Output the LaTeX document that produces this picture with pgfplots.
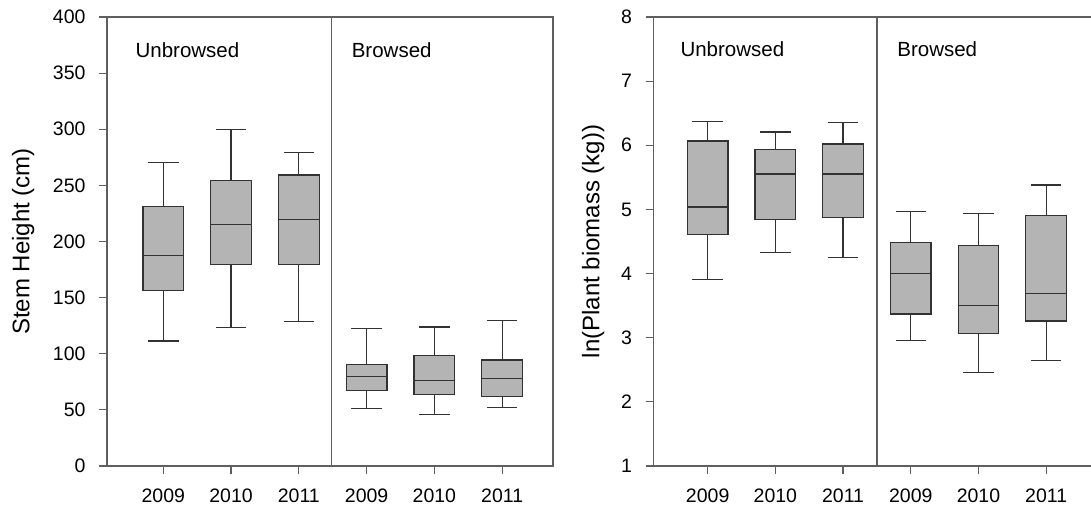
\documentclass[border=0pt]{standalone}
\usepackage{fontspec}
\setmainfont{Liberation Sans}
\usepackage{pgfplots}
\pgfplotsset{compat=1.18}
\usepgfplotslibrary{statistics}

\definecolor{boxfill}{RGB}{180,180,180}
\definecolor{boxline}{RGB}{50,50,50}
\definecolor{axline}{RGB}{95,95,95}

\tikzset{grp/.style={anchor=base west, font=\fontsize{20.5bp}{24bp}\selectfont}}

\pgfplotsset{
  panel/.style={
    scale only axis, height=449bp,
    axis line style={axline, line width=1.4bp},
    tick style={axline, line width=1.2bp},
    tick align=outside, major tick length=8bp,
    xtick pos=left, ytick pos=left,
    xtick={1,2,3,4,5,6}, xticklabels={2009,2010,2011,2009,2010,2011},
    ticklabel style={font=\fontsize{19.5bp}{23bp}\selectfont, text=black},
    /pgf/number format/assume math mode=true,
    extra x tick labels={},
    extra x tick style={grid=major, major tick length=0pt, major grid style={axline, line width=1.5bp}},
    xticklabel style={yshift=-11bp},
    yticklabel style={xshift=-10bp},
    boxplot/draw direction=y,
  },
  mybox/.style={draw=boxline, line width=1.2bp, boxplot/every box/.style={fill=boxfill}},
  bx/.style n args={6}{mybox, boxplot prepared={draw position=#1, lower whisker=#2, lower quartile=#3, median=#4, upper quartile=#5, upper whisker=#6, box extend=0.6, whisker extend=0.45}},
}

\begin{document}
\begin{tikzpicture}
\path[use as bounding box] (0,0) rectangle (1091bp,506bp);
\clip (0,0) rectangle (1091bp,506bp);

\begin{axis}[panel, at={(107bp,40bp)}, anchor=south west, width=446bp,
  xmin=0.17, xmax=6.75, ymin=0, ymax=400, ytick={0,50,...,400},
  extra x ticks={3.48},
  ylabel={Stem Height (cm)},
  every axis y label/.style={at={(axis description cs:-0.188,0.5)}, rotate=90, anchor=center, font=\fontsize{24bp}{28bp}\selectfont}]
\addplot[bx={1}{111.4}{156.7}{187.6}{231.4}{270.5}] coordinates {};
\addplot[bx={2}{123.6}{179.6}{214.8}{254.2}{299.6}] coordinates {};
\addplot[bx={3}{128.6}{179.6}{219.6}{259.3}{279.4}] coordinates {};
\addplot[bx={4}{51.3}{67.3}{79.7}{90.1}{122.7}] coordinates {};
\addplot[bx={5}{45.9}{63.7}{76.4}{98.1}{123.9}] coordinates {};
\addplot[bx={6}{51.9}{61.6}{77.6}{94.5}{129.8}] coordinates {};
\node[grp] at (axis cs:0.54,364) {Unbrowsed};
\node[grp] at (axis cs:3.73,364) {Browsed};
\end{axis}

\begin{axis}[panel, at={(653.5bp,40bp)}, anchor=south west, width=446.8bp,
  xmin=0.2, xmax=6.8, ymin=1, ymax=8, ytick={1,2,...,8},
  extra x ticks={3.5},
  ylabel={ln(Plant biomass (kg))},
  every axis y label/.style={at={(axis description cs:-0.135,0.5)}, rotate=90, anchor=center, font=\fontsize{24bp}{28bp}\selectfont}]
\addplot[bx={1}{3.904}{4.609}{5.039}{6.066}{6.372}] coordinates {};
\addplot[bx={2}{4.334}{4.842}{5.553}{5.931}{6.206}] coordinates {};
\addplot[bx={3}{4.256}{4.873}{5.553}{6.019}{6.356}] coordinates {};
\addplot[bx={4}{2.960}{3.370}{4.002}{4.490}{4.967}] coordinates {};
\addplot[bx={5}{2.457}{3.069}{3.504}{4.433}{4.941}] coordinates {};
\addplot[bx={6}{2.644}{3.261}{3.686}{4.904}{5.381}] coordinates {};
\node[grp] at (axis cs:0.547,7.38) {Unbrowsed};
\node[grp] at (axis cs:3.75,7.38) {Browsed};
\end{axis}
\end{tikzpicture}
\end{document}
